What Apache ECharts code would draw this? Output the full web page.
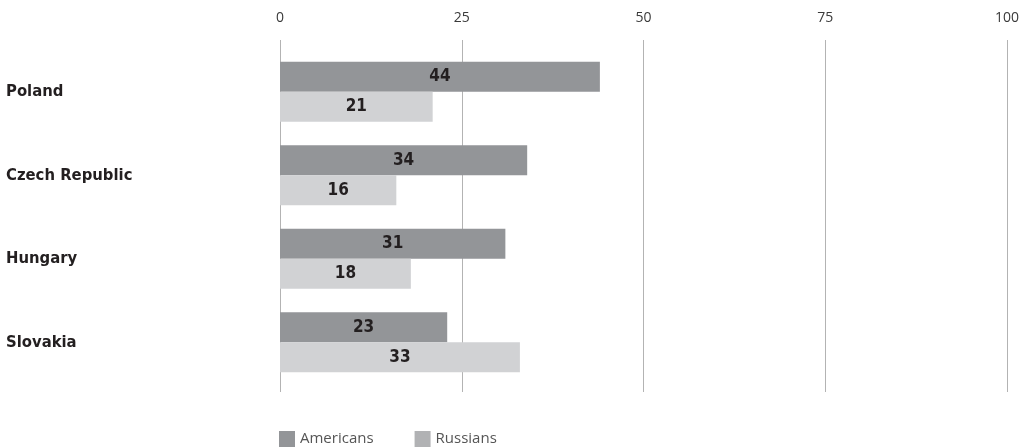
<!DOCTYPE html>
<html><head><meta charset="utf-8">
<script src="https://cdn.jsdelivr.net/npm/echarts@6/dist/echarts.min.js"></script>
<style>html,body{margin:0;padding:0;background:#fff}#c{width:1028px;height:448px}</style>
</head><body><div id="c"></div>
<script>
const categories = ["Poland", "Czech Republic", "Hungary", "Slovakia"];
const americans = [44, 34, 31, 23];
const russians = [21, 16, 18, 33];
const tickValues = [0, 25, 50, 75, 100];

const chart = echarts.init(document.getElementById('c'));
const labelStyle = {show: true, position: 'inside', color: '#231f20', fontFamily: 'DejaVu Sans Condensed', fontWeight: 'bold', fontSize: 17};
chart.setOption({
  animation: false,
  legend: {
    left: 279, top: 431, itemWidth: 16, itemHeight: 16, itemGap: 41, padding: 0,
    icon: 'rect',
    textStyle: {color: '#555', fontFamily: 'Open Sans', fontSize: 15},
    data: [{name: 'Americans', itemStyle: {color: '#939598'}}, {name: 'Russians', itemStyle: {color: '#b1b2b4'}}]
  },
  grid: [
    {left: 280, right: 21, top: 40, bottom: 56, containLabel: false},
    {left: 280, right: 21, top: 50, height: 334, containLabel: false}
  ],
  xAxis: [
    {gridIndex: 0, type: 'value', position: 'top', min: 0, max: 100, interval: 25,
     axisLine: {show: false}, axisTick: {show: false},
     axisLabel: {margin: 15, color: '#3a3a3a', fontFamily: 'Open Sans', fontSize: 14},
     splitLine: {show: true, lineStyle: {color: '#b3b3b3', width: 1}}},
    {gridIndex: 1, type: 'value', min: 0, max: 100, show: false, splitLine: {show: false}}
  ],
  yAxis: [
    {gridIndex: 0, type: 'category', data: categories, show: false},
    {gridIndex: 1, type: 'category', data: categories, inverse: true,
     axisLine: {show: false}, axisTick: {show: false},
     axisLabel: {align: 'left', margin: 274, padding: [4, 0, 0, 0], color: '#231f20', fontFamily: 'DejaVu Sans Condensed', fontWeight: 'bold', fontSize: 16.5}}
  ],
  series: [
    {name: 'Americans', type: 'bar', xAxisIndex: 1, yAxisIndex: 1, data: americans, barGap: '0%', barCategoryGap: '28%',
     itemStyle: {color: '#939598'}, label: labelStyle},
    {name: 'Russians', type: 'bar', xAxisIndex: 1, yAxisIndex: 1, data: russians, barGap: '0%', barCategoryGap: '28%',
     itemStyle: {color: '#d1d2d4'}, label: labelStyle}
  ]
});
</script></body></html>
